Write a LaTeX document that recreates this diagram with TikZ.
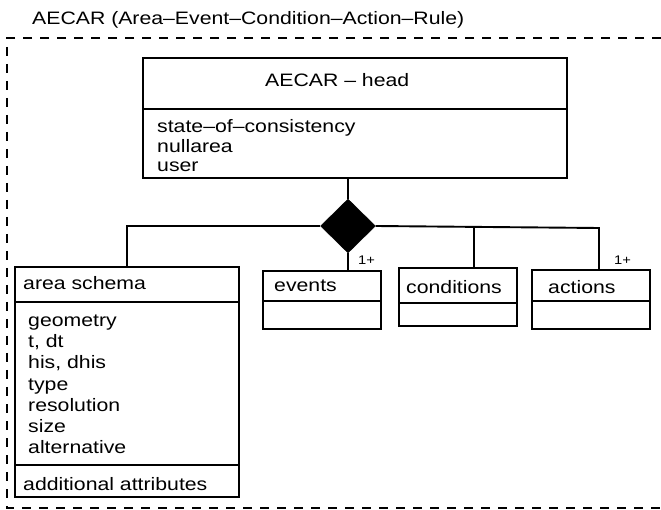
\documentclass[tikz,border=0pt]{standalone}
\usepackage{fontspec}
\setmainfont{Liberation Sans}[FakeStretch=1.18]
\usetikzlibrary{shapes.geometric,calc}
\tikzset{
  umlbox/.style={draw, line width=1.9pt, rectangle, inner sep=0pt, outer sep=0pt},
  conn/.style={line width=1.9pt},
  frame/.style={line width=1.8pt, dash pattern=on 9pt off 8pt},
  txt/.style={inner sep=0pt, anchor=base west, font=\fontsize{18}{21}\selectfont},
  mult/.style={inner sep=0pt, anchor=base west, font=\fontsize{12.5}{14}\selectfont},
  agg/.style={diamond, fill=black, draw=black, inner sep=0pt, minimum width=55pt, minimum height=54pt}
}
\begin{document}
\begin{tikzpicture}[x=1pt,y=-1pt]
\useasboundingbox (0,0) rectangle (661,510);
% frame
\coordinate (ftr) at (661,38);
\coordinate (ftl) at (7,38);
\coordinate (fbl) at (7,508);
\coordinate (fbr) at (661,508);
\draw[frame] (ftr) -- (ftl) -- (fbl) -- (fbr);
\node[txt] (title) at (32,25) {AECAR (Area–Event–Condition–Action–Rule)};
% head
\node[umlbox, minimum width=424pt, minimum height=120pt] (head) at (355,118) {};
\draw[conn] (head.west |- 0,109) -- (head.east |- 0,109);
\node[txt] (headname) at (265,87) {AECAR – head};
\node[txt] (h1) at (157,132.7) {state–of–consistency};
\node[txt] (h2) at (157,152.2) {nullarea};
\node[txt] (h3) at (157,171.7) {user};
% diamond
\node[agg] (dia) at (348,226) {};
% area schema
\node[umlbox, minimum width=224pt, minimum height=230pt] (area) at (127,382) {};
\draw[conn] (area.west |- 0,302) -- (area.east |- 0,302);
\draw[conn] (area.west |- 0,465) -- (area.east |- 0,465);
\node[txt] (aname) at (23,290) {area schema};
\node[txt] (a1) at (28,326.7) {geometry};
\node[txt] (a2) at (28,347.8) {t, dt};
\node[txt] (a3) at (28,368.9) {his, dhis};
\node[txt] (a4) at (28,390.0) {type};
\node[txt] (a5) at (28,411.1) {resolution};
\node[txt] (a6) at (28,432.2) {size};
\node[txt] (a7) at (28,453.3) {alternative};
\node[txt] (a8) at (23,490) {additional attributes};
% events
\node[umlbox, minimum width=118pt, minimum height=58pt] (events) at (322,300) {};
\draw[conn] (events.west |- 0,301) -- (events.east |- 0,301);
\node[txt] (ename) at (274,291.7) {events};
% conditions
\node[umlbox, minimum width=118pt, minimum height=58pt] (cond) at (458,297) {};
\draw[conn] (cond.west |- 0,303) -- (cond.east |- 0,303);
\node[txt] (cname) at (406,293.3) {conditions};
% actions
\node[umlbox, minimum width=118pt, minimum height=59pt] (actions) at (591,299.5) {};
\draw[conn] (actions.west |- 0,301) -- (actions.east |- 0,301);
\node[txt] (acname) at (548,293.3) {actions};
% connectors
\coordinate (jc) at (474,228);
\coordinate (ja) at (599,228);
\draw[conn] (dia.north |- head.south) -- (dia.north);
\draw[conn] (dia.west) -| (area.north);
\draw[conn] (dia.east) -- (ja) -- (ja |- actions.north);
\draw[conn] (jc) -- (jc |- cond.north);
\draw[conn] (dia.south) -- (dia.south |- events.north);
\node[mult] (m1) at (358,265) {1+};
\node[mult] (m2) at (614,265) {1+};
\end{tikzpicture}
\end{document}
